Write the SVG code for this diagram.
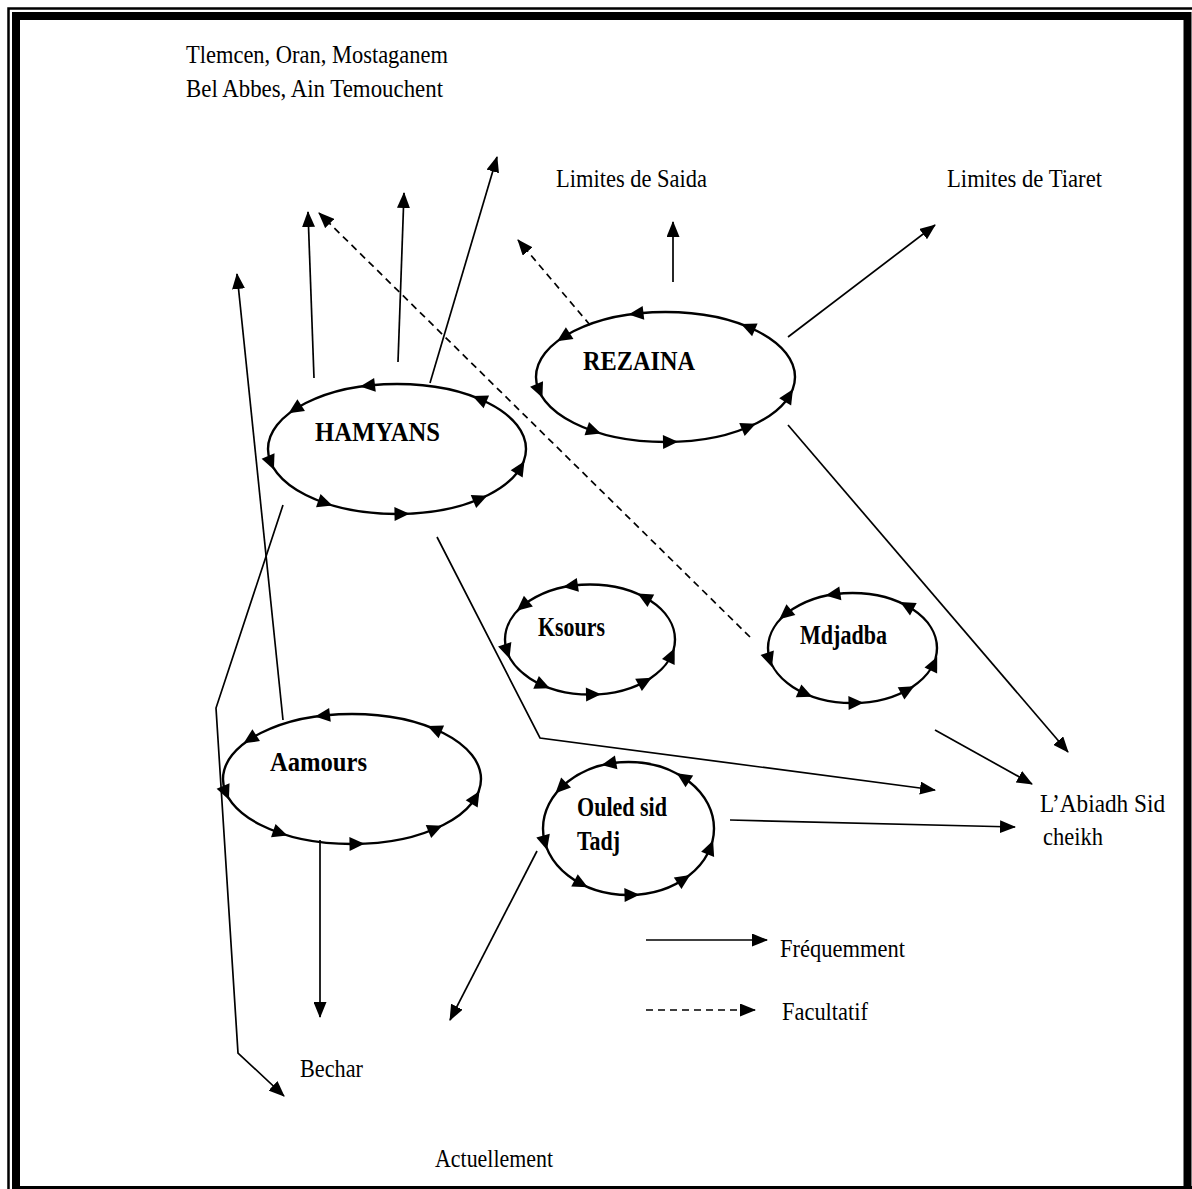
<svg xmlns="http://www.w3.org/2000/svg" xmlns:xlink="http://www.w3.org/1999/xlink" width="1192" height="1189" viewBox="0 0 1192 1189">
<style>
.t{font-family:"Liberation Serif","Times New Roman",Tinos,serif;font-size:25px;fill:#000}
.b{font-family:"Liberation Serif","Times New Roman",Tinos,serif;font-weight:bold;font-size:27px;fill:#000}
.ell{fill:none;stroke:#000;stroke-width:2.4}
.c{fill:none;stroke:#000;stroke-width:1.7;marker-end:url(#ah)}
.d{stroke-dasharray:7 5}
</style>
<defs>
<marker id="ah" viewBox="0 0 16 13" refX="15" refY="6.5" markerWidth="16" markerHeight="13" markerUnits="userSpaceOnUse" orient="auto">
<path d="M0,0 L16,6.5 L0,13 z" fill="#000" stroke="none"/>
</marker>
<path id="eh" d="M8,0 L-7,-7 L-7,7 z" fill="#000"/>
</defs>
<rect width="1192" height="1189" fill="#fff"/>
<g id="frame">
<path d="M8.5,1189 V8.5 H1192" fill="none" stroke="#000" stroke-width="2.5"/>
<path d="M16,1192 V16 H1187.5 V1192" fill="none" stroke="#000" stroke-width="8"/>
<rect x="12" y="1186" width="1180" height="3" fill="#000"/>
</g>
<g id="connectors">
<line class="c" x1="314" y1="378" x2="308" y2="212"/>
<line class="c" x1="398" y1="362" x2="404" y2="193"/>
<line class="c" x1="430" y1="383" x2="497" y2="157"/>
<line class="c d" x1="750" y1="637" x2="319" y2="213"/>
<line class="c d" x1="590" y1="325" x2="518" y2="240"/>
<line class="c" x1="673" y1="282" x2="673" y2="222"/>
<line class="c" x1="788" y1="337" x2="935" y2="225"/>
<line class="c" x1="788" y1="425" x2="1068" y2="752"/>
<line class="c" x1="935" y1="730" x2="1032" y2="784"/>
<polyline class="c" points="437,537 540,738 935,790"/>
<line class="c" x1="730" y1="820" x2="1015" y2="827"/>
<line class="c" x1="537" y1="851" x2="450" y2="1020"/>
<line class="c" x1="320" y1="840" x2="320" y2="1017"/>
<line class="c" x1="283" y1="720" x2="237" y2="274"/>
<polyline class="c" points="283,505 216,708 238,1053 284,1096"/>
</g>
<g id="hamyans">
<ellipse class="ell" cx="397" cy="449" rx="129" ry="65"/>
<g transform="translate(397,449)">
<use xlink:href="#eh" transform="translate(-29,-63.3) rotate(173.4)"/>
<use xlink:href="#eh" transform="translate(-101.7,-40) rotate(147.2)"/>
<use xlink:href="#eh" transform="translate(-126.2,13.5) rotate(67.1)"/>
<use xlink:href="#eh" transform="translate(-72.1,53.9) rotate(18.8)"/>
<use xlink:href="#eh" transform="translate(4.5,64.9) rotate(-1)"/>
<use xlink:href="#eh" transform="translate(82.9,49.8) rotate(-22.9)"/>
<use xlink:href="#eh" transform="translate(123.3,19) rotate(-58.7)"/>
<use xlink:href="#eh" transform="translate(82.9,-49.8) rotate(-157.1)"/>
</g>
<text class="b" x="315" y="441" font-size="28" textLength="125" lengthAdjust="spacingAndGlyphs">HAMYANS</text>
</g>
<g id="rezaina">
<ellipse class="ell" cx="665.5" cy="377" rx="129.5" ry="65"/>
<g transform="translate(665.5,377)">
<use xlink:href="#eh" transform="translate(-29,-63.3) rotate(173.4)"/>
<use xlink:href="#eh" transform="translate(-101.7,-40) rotate(147.2)"/>
<use xlink:href="#eh" transform="translate(-126.2,13.5) rotate(67.1)"/>
<use xlink:href="#eh" transform="translate(-72.1,53.9) rotate(18.8)"/>
<use xlink:href="#eh" transform="translate(4.5,64.9) rotate(-1)"/>
<use xlink:href="#eh" transform="translate(82.9,49.8) rotate(-22.9)"/>
<use xlink:href="#eh" transform="translate(123.3,19) rotate(-58.7)"/>
<use xlink:href="#eh" transform="translate(82.9,-49.8) rotate(-157.1)"/>
</g>
<text class="b" x="583" y="370" textLength="112" lengthAdjust="spacingAndGlyphs">REZAINA</text>
</g>
<g id="aamours">
<ellipse class="ell" cx="352" cy="779" rx="129" ry="65"/>
<g transform="translate(352,779)">
<use xlink:href="#eh" transform="translate(-29,-63.3) rotate(173.4)"/>
<use xlink:href="#eh" transform="translate(-101.7,-40) rotate(147.2)"/>
<use xlink:href="#eh" transform="translate(-126.2,13.5) rotate(67.1)"/>
<use xlink:href="#eh" transform="translate(-72.1,53.9) rotate(18.8)"/>
<use xlink:href="#eh" transform="translate(4.5,64.9) rotate(-1)"/>
<use xlink:href="#eh" transform="translate(82.9,49.8) rotate(-22.9)"/>
<use xlink:href="#eh" transform="translate(123.3,19) rotate(-58.7)"/>
<use xlink:href="#eh" transform="translate(82.9,-49.8) rotate(-157.1)"/>
</g>
<text class="b" x="270" y="771" textLength="97" lengthAdjust="spacingAndGlyphs">Aamours</text>
</g>
<g id="ksours">
<ellipse class="ell" cx="590" cy="639.5" rx="85" ry="55"/>
<g transform="translate(590,639.5)">
<use xlink:href="#eh" transform="translate(-19.1,-53.6) rotate(171.5)"/>
<use xlink:href="#eh" transform="translate(-67,-33.9) rotate(140.4)"/>
<use xlink:href="#eh" transform="translate(-83.1,11.4) rotate(71.8)"/>
<use xlink:href="#eh" transform="translate(-47.5,45.6) rotate(23.5)"/>
<use xlink:href="#eh" transform="translate(3,54.9) rotate(-1.3)"/>
<use xlink:href="#eh" transform="translate(54.7,42.1) rotate(-28.5)"/>
<use xlink:href="#eh" transform="translate(81.3,16.1) rotate(-64.8)"/>
<use xlink:href="#eh" transform="translate(54.7,-42.1) rotate(-151.5)"/>
</g>
<text class="b" x="538" y="636" font-size="26" textLength="67" lengthAdjust="spacingAndGlyphs">Ksours</text>
</g>
<g id="mdjadba">
<ellipse class="ell" cx="852.5" cy="648" rx="84.5" ry="55"/>
<g transform="translate(852.5,648)">
<use xlink:href="#eh" transform="translate(-19.1,-53.6) rotate(171.5)"/>
<use xlink:href="#eh" transform="translate(-67,-33.9) rotate(140.4)"/>
<use xlink:href="#eh" transform="translate(-83.1,11.4) rotate(71.8)"/>
<use xlink:href="#eh" transform="translate(-47.5,45.6) rotate(23.5)"/>
<use xlink:href="#eh" transform="translate(3,54.9) rotate(-1.3)"/>
<use xlink:href="#eh" transform="translate(54.7,42.1) rotate(-28.5)"/>
<use xlink:href="#eh" transform="translate(81.3,16.1) rotate(-64.8)"/>
<use xlink:href="#eh" transform="translate(54.7,-42.1) rotate(-151.5)"/>
</g>
<text class="b" x="800" y="644" font-size="26" textLength="87" lengthAdjust="spacingAndGlyphs">Mdjadba</text>
</g>
<g id="ouled-sid-tadj">
<ellipse class="ell" cx="628.5" cy="828.5" rx="85.5" ry="66.5"/>
<g transform="translate(628.5,828.5)">
<use xlink:href="#eh" transform="translate(-19.2,-64.8) rotate(169.8)"/>
<use xlink:href="#eh" transform="translate(-67.4,-41) rotate(135.2)"/>
<use xlink:href="#eh" transform="translate(-83.6,13.8) rotate(74.7)"/>
<use xlink:href="#eh" transform="translate(-47.8,55.1) rotate(27.7)"/>
<use xlink:href="#eh" transform="translate(3,66.4) rotate(-1.5)"/>
<use xlink:href="#eh" transform="translate(55,50.9) rotate(-33.2)"/>
<use xlink:href="#eh" transform="translate(81.7,19.4) rotate(-68.5)"/>
<use xlink:href="#eh" transform="translate(55,-50.9) rotate(-146.8)"/>
</g>
<text class="b" x="577" y="816" font-size="26" textLength="90" lengthAdjust="spacingAndGlyphs">Ouled sid</text>
<text class="b" x="577" y="850" font-size="26" textLength="43" lengthAdjust="spacingAndGlyphs">Tadj</text>
</g>
<g id="places">
<text class="t" x="186" y="63" font-size="26" textLength="262" lengthAdjust="spacingAndGlyphs">Tlemcen, Oran, Mostaganem</text>
<text class="t" x="186" y="97" font-size="26" textLength="257" lengthAdjust="spacingAndGlyphs">Bel Abbes, Ain Temouchent</text>
<text class="t" x="556" y="187" textLength="151" lengthAdjust="spacingAndGlyphs">Limites de Saida</text>
<text class="t" x="947" y="187" textLength="155" lengthAdjust="spacingAndGlyphs">Limites de Tiaret</text>
<text class="t" x="1040" y="812" textLength="125" lengthAdjust="spacingAndGlyphs">L’Abiadh Sid</text>
<text class="t" x="1043" y="845" textLength="60" lengthAdjust="spacingAndGlyphs">cheikh</text>
<text class="t" x="300" y="1077" textLength="63" lengthAdjust="spacingAndGlyphs">Bechar</text>
<text class="t" x="435" y="1167" textLength="118" lengthAdjust="spacingAndGlyphs">Actuellement</text>
</g>
<g id="legend">
<line class="c" x1="646" y1="940" x2="767" y2="940"/>
<line class="c d" x1="646" y1="1010" x2="755" y2="1010"/>
<text class="t" x="780" y="957" textLength="125" lengthAdjust="spacingAndGlyphs">Fréquemment</text>
<text class="t" x="782" y="1020" textLength="86" lengthAdjust="spacingAndGlyphs">Facultatif</text>
</g>
</svg>
